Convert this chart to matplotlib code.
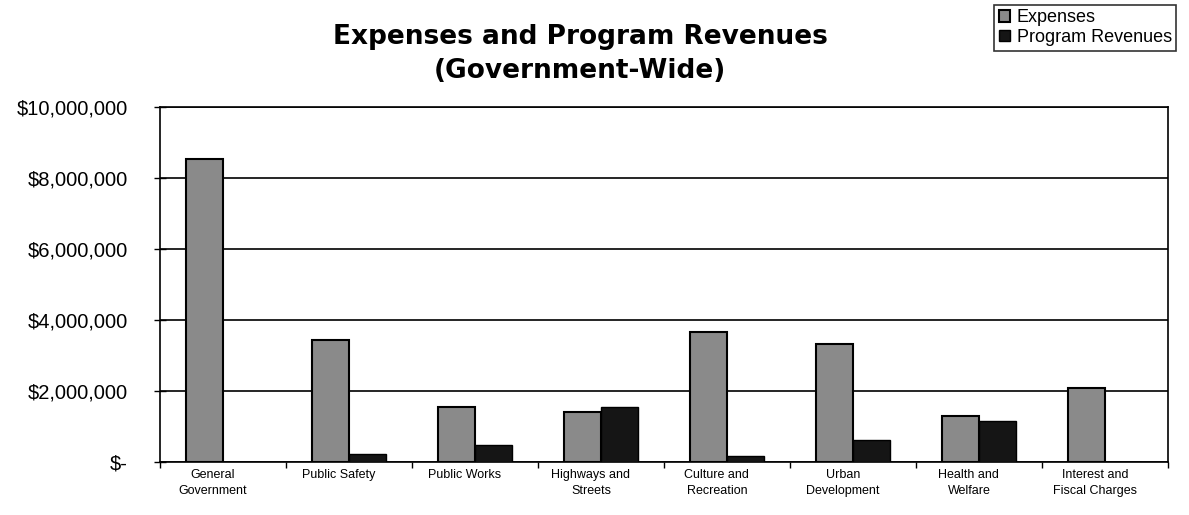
import matplotlib
matplotlib.use("Agg")
import matplotlib.pyplot as plt
import matplotlib.ticker as mticker
import numpy as np

plt.rcParams['font.family'] = ['Liberation Sans', 'DejaVu Sans']

categories = ["General\nGovernment", "Public Safety", "Public Works", "Highways and\nStreets",
              "Culture and\nRecreation", "Urban\nDevelopment", "Health and\nWelfare",
              "Interest and\nFiscal Charges"]
expenses = [8540000, 3440000, 1550000, 1410000, 3660000, 3320000, 1300000, 2080000]
program_revenues = [0, 230000, 480000, 1550000, 170000, 620000, 1150000, 0]
y_ticks = [0, 2000000, 4000000, 6000000, 8000000, 10000000]

fig = plt.figure(figsize=(11.89, 5.15), dpi=100)
ax = fig.add_axes([0.1346, 0.1029, 0.8477, 0.6893])

x = np.arange(len(categories))
w = 0.29
ax.bar(x - w / 2, expenses, w, color='#8a8a8a', edgecolor='black', linewidth=1.5,
       label='Expenses', zorder=3)
ax.bar(x + w / 2, program_revenues, w, color='#151515', edgecolor='black', linewidth=1.0,
       label='Program Revenues', zorder=3)

ax.set_xlim(-0.5, len(categories) - 0.5)
ax.set_ylim(0, 10000000)
ax.set_yticks(y_ticks)
ax.yaxis.set_major_formatter(mticker.FuncFormatter(
    lambda v, p: "$-" if v == 0 else "${:,.0f}".format(v)))
ax.tick_params(axis='y', labelsize=14.5, length=8, width=1, direction='inout', pad=19)
ax.set_xticks(x - 0.08)
ax.set_xticklabels(categories, fontsize=9, linespacing=1.5)
ax.set_xticks(np.arange(len(categories) + 1) - 0.5, minor=True)
ax.tick_params(axis='x', which='major', length=0, pad=5)
ax.tick_params(axis='x', which='minor', length=4, width=1, direction='out')
ax.grid(axis='y', color='black', linewidth=1.2, zorder=0)

for s in ax.spines.values():
    s.set_color('black')
    s.set_linewidth(1.2)

fig.text(0.488, 0.896, "Expenses and Program Revenues\n(Government-Wide)", ha='center', va='center',
         fontsize=19, fontweight='bold', linespacing=1.4,
         family=['DejaVu Sans'])

handles, labels = ax.get_legend_handles_labels()
leg = fig.legend(handles, labels, loc='upper right', bbox_to_anchor=(0.997, 1.008), fontsize=13,
                 frameon=True, fancybox=False, edgecolor='black', handlelength=0.6,
                 handleheight=0.6, handletextpad=0.4, borderpad=0.25, labelspacing=0.15)
leg.get_frame().set_linewidth(1.2)

fig.savefig("out.png", dpi=100)
